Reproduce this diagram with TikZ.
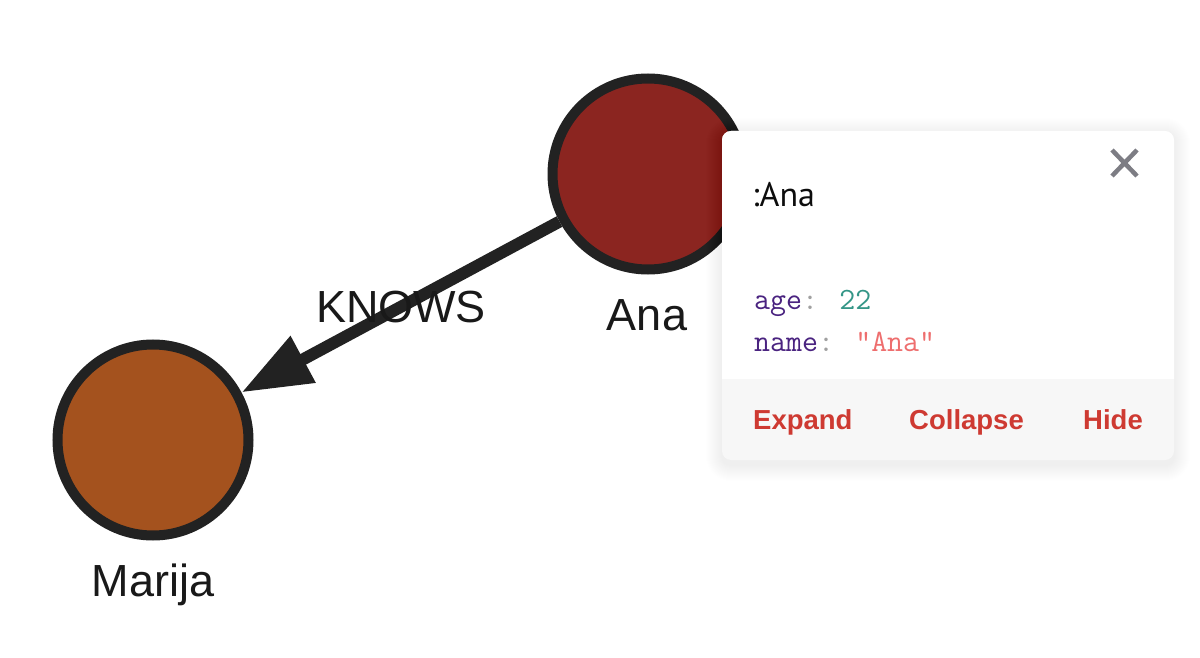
\documentclass[tikz,border=0pt]{standalone}
\usepackage{fontspec}
\setmainfont{Liberation Sans}
\newfontfamily\titlefont{PT Sans}
\usetikzlibrary{arrows.meta}
\definecolor{anafill}{RGB}{139,37,32}
\definecolor{marijafill}{RGB}{164,82,30}
\definecolor{ringcol}{RGB}{34,34,34}
\definecolor{keycol}{RGB}{74,35,128}
\definecolor{colcol}{RGB}{160,160,160}
\definecolor{numcol}{RGB}{52,150,135}
\definecolor{strcol}{RGB}{238,110,110}
\definecolor{btncol}{RGB}{206,58,50}
\definecolor{bandcol}{RGB}{247,247,247}
\definecolor{closecol}{RGB}{125,125,132}
\tikzset{
  graphnode/.style={circle, draw=ringcol, line width=10pt, minimum size=191pt, inner sep=0pt},
  nodelbl/.style={font=\fontsize{45}{54}\selectfont, text=black!90, anchor=base, inner sep=0pt},
  rel/.style={draw=ringcol, line width=12pt, -{Triangle[length=70pt,width=50pt]}},
  codetxt/.style={font=\ttfamily\fontsize{31}{36}\selectfont, anchor=base west, inner sep=0pt},
  btn/.style={font=\bfseries\fontsize{27.5}{34}\selectfont, text=btncol, anchor=base west, inner sep=0pt},
}
\begin{document}
\begin{tikzpicture}[x=1pt,y=-1pt]
\useasboundingbox (0,0) rectangle (1200,658);
\fill[white] (0,0) rectangle (1200,658);
% nodes
\node[graphnode, fill=anafill] (ana) at (648,174) {};
\node[graphnode, fill=marijafill] (marija) at (153,440) {};
\draw[rel] (ana) -- (marija);
\node[nodelbl] (knows) at (401,322) {KNOWS};
\node[nodelbl] (analbl) at (647,330) {Ana};
\node[nodelbl] (marijalbl) at (153,596) {Marija};
% popup shadow
\foreach \i in {1,...,16}{
  \fill[black, opacity=0.004, rounded corners=9pt+\i pt] (722-\i,134-\i) rectangle (1174+\i,465+\i);
}
% popup
\fill[bandcol, rounded corners=9pt] (722,131) rectangle (1174,460);
\begin{scope}
\clip (700,100) rectangle (1200,378);
\fill[white, rounded corners=9pt] (722,131) rectangle (1174,460);
\end{scope}
\node[font=\titlefont\fontsize{34}{40}\selectfont, text=black!95, anchor=base west, inner sep=0pt] (title) at (752,207) {:Ana};
\coordinate (xa) at (1112,150);
\coordinate (xb) at (1137,176);
\coordinate (xc) at (1137,150);
\coordinate (xd) at (1112,176);
\draw[closecol, line width=4.5pt] (xa) -- (xb) (xc) -- (xd);
\node[codetxt] (age) at (754,309) {\textcolor{keycol}{age}\textcolor{colcol}{:} \textcolor{numcol}{22}};
\node[codetxt] (name) at (754,351) {\textcolor{keycol}{name}\textcolor{colcol}{:} \textcolor{strcol}{"Ana"}};
\node[btn] (expand) at (753,429) {Expand};
\node[btn] (collapse) at (909,429) {Collapse};
\node[btn] (hide) at (1083,429) {Hide};
\end{tikzpicture}
\end{document}
